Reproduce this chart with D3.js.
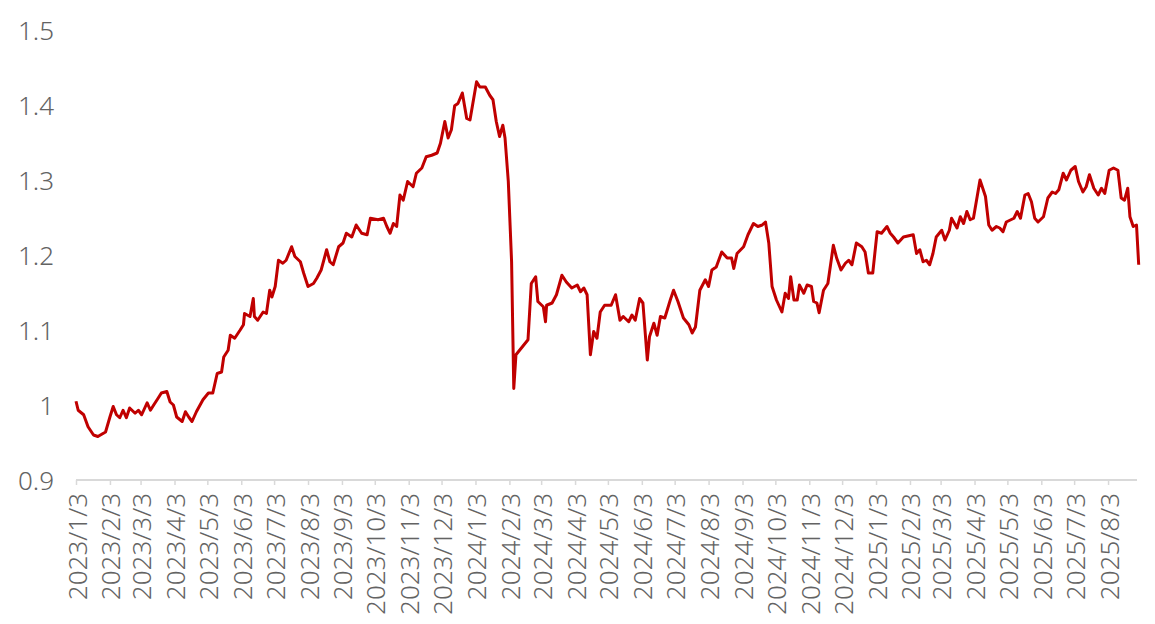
<!DOCTYPE html>
<html>
<head>
<meta charset="utf-8">
<script src="https://cdn.jsdelivr.net/npm/d3@7"></script>
<style>
  html, body { margin: 0; padding: 0; background: #ffffff; }
  svg { display: block; }
  text { font-family: "Noto Sans", "Noto Sans CJK SC", sans-serif; font-weight: 300; fill: #636363; }
</style>
</head>
<body>
<svg id="chart" width="1155" height="624"></svg>
<script>
const dates = [
"2023-01-03","2023-01-05","2023-01-10","2023-01-14","2023-01-19","2023-01-23","2023-01-30",
"2023-02-03","2023-02-06","2023-02-09","2023-02-12","2023-02-15","2023-02-18","2023-02-21","2023-02-26",
"2023-03-01","2023-03-04","2023-03-09","2023-03-12","2023-03-15","2023-03-19","2023-03-22","2023-03-27","2023-03-30",
"2023-04-02","2023-04-05","2023-04-10","2023-04-13","2023-04-16","2023-04-19","2023-04-23","2023-04-29",
"2023-05-04","2023-05-08","2023-05-12","2023-05-16","2023-05-18","2023-05-22","2023-05-24","2023-05-28",
"2023-06-02","2023-06-05","2023-06-06","2023-06-11","2023-06-14","2023-06-15","2023-06-18","2023-06-23","2023-06-26","2023-06-29",
"2023-07-01","2023-07-04","2023-07-07","2023-07-11","2023-07-14","2023-07-19","2023-07-22","2023-07-27","2023-07-30",
"2023-08-03","2023-08-08","2023-08-11","2023-08-15","2023-08-20","2023-08-23","2023-08-26","2023-08-31",
"2023-09-04","2023-09-07","2023-09-12","2023-09-16","2023-09-21","2023-09-26","2023-09-29",
"2023-10-06","2023-10-11","2023-10-14","2023-10-17","2023-10-20","2023-10-23","2023-10-26","2023-10-29",
"2023-11-02","2023-11-07","2023-11-10","2023-11-15","2023-11-19","2023-11-24","2023-11-29",
"2023-12-02","2023-12-06","2023-12-09","2023-12-12","2023-12-15","2023-12-18","2023-12-22","2023-12-26","2023-12-29",
"2024-01-04","2024-01-07","2024-01-12","2024-01-16","2024-01-19","2024-01-22","2024-01-25","2024-01-28","2024-01-30",
"2024-02-02","2024-02-05","2024-02-07","2024-02-09","2024-02-20","2024-02-23","2024-02-27","2024-02-29",
"2024-03-05","2024-03-07","2024-03-08","2024-03-13","2024-03-17","2024-03-22","2024-03-26","2024-03-31",
"2024-04-05","2024-04-08","2024-04-11","2024-04-14","2024-04-17","2024-04-20","2024-04-23","2024-04-26","2024-04-30",
"2024-05-06","2024-05-10","2024-05-14","2024-05-17","2024-05-22","2024-05-25","2024-05-28",
"2024-06-01","2024-06-04","2024-06-08","2024-06-10","2024-06-14","2024-06-17","2024-06-20","2024-06-24","2024-06-29",
"2024-07-02","2024-07-06","2024-07-11","2024-07-16","2024-07-19","2024-07-22","2024-07-26","2024-07-31",
"2024-08-03","2024-08-06","2024-08-10","2024-08-15","2024-08-20","2024-08-24","2024-08-26","2024-08-29",
"2024-09-04","2024-09-08","2024-09-13","2024-09-17","2024-09-21","2024-09-24","2024-09-27","2024-09-30",
"2024-10-04","2024-10-09","2024-10-12","2024-10-15","2024-10-17","2024-10-20","2024-10-23","2024-10-25","2024-10-29",
"2024-11-01","2024-11-05","2024-11-07","2024-11-10","2024-11-12","2024-11-16","2024-11-20","2024-11-25","2024-11-28",
"2024-12-02","2024-12-06","2024-12-09","2024-12-12","2024-12-16","2024-12-21","2024-12-24","2024-12-27","2024-12-31",
"2025-01-04","2025-01-08","2025-01-13","2025-01-16","2025-01-19","2025-01-23","2025-01-28",
"2025-02-06","2025-02-09","2025-02-12","2025-02-15","2025-02-18","2025-02-21","2025-02-24","2025-02-27",
"2025-03-04","2025-03-07","2025-03-11","2025-03-13","2025-03-18","2025-03-21","2025-03-24","2025-03-27","2025-03-30",
"2025-04-02","2025-04-08","2025-04-13","2025-04-16","2025-04-19","2025-04-23","2025-04-26","2025-04-29",
"2025-05-02","2025-05-09","2025-05-12","2025-05-15","2025-05-19","2025-05-22","2025-05-25","2025-05-28","2025-05-31",
"2025-06-05","2025-06-09","2025-06-13","2025-06-16","2025-06-19","2025-06-23","2025-06-26","2025-06-30",
"2025-07-04","2025-07-07","2025-07-11","2025-07-14","2025-07-17","2025-07-21","2025-07-25","2025-07-28","2025-07-31",
"2025-08-04","2025-08-08","2025-08-12","2025-08-15","2025-08-18","2025-08-21","2025-08-23","2025-08-26","2025-08-29","2025-08-31"
];

const values = [
1.005,0.993,0.987,0.971,0.960,0.958,0.964,
0.984,0.998,0.987,0.983,0.993,0.983,0.996,0.989,
0.993,0.987,1.003,0.993,1.000,1.009,1.016,1.018,1.004,
1.000,0.984,0.978,0.991,0.984,0.978,0.991,1.007,
1.016,1.016,1.042,1.044,1.064,1.073,1.093,1.089,
1.100,1.107,1.122,1.118,1.142,1.118,1.113,1.124,1.122,1.153,
1.144,1.158,1.193,1.189,1.193,1.211,1.198,1.191,1.176,
1.158,1.162,1.169,1.180,1.207,1.191,1.187,1.211,
1.216,1.229,1.224,1.240,1.229,1.227,1.249,
1.247,1.249,1.238,1.229,1.242,1.238,1.280,1.273,
1.298,1.291,1.309,1.316,1.331,1.333,1.336,
1.349,1.378,1.356,1.367,1.399,1.402,1.416,1.382,1.380,
1.431,1.424,1.424,1.413,1.407,1.378,1.358,1.373,1.356,
1.298,1.191,1.022,1.067,1.087,1.162,1.171,1.138,
1.131,1.111,1.133,1.136,1.147,1.173,1.164,1.156,
1.160,1.151,1.156,1.147,1.067,1.098,1.089,1.124,1.133,
1.133,1.147,1.113,1.118,1.111,1.120,1.113,
1.142,1.136,1.060,1.091,1.109,1.093,1.118,1.116,1.140,
1.153,1.138,1.116,1.107,1.096,1.104,1.153,1.167,
1.158,1.180,1.184,1.204,1.196,1.196,1.182,1.202,
1.211,1.227,1.242,1.238,1.240,1.244,1.216,1.158,
1.140,1.124,1.149,1.142,1.171,1.140,1.140,1.160,1.149,
1.160,1.158,1.138,1.136,1.123,1.153,1.162,1.213,1.196,
1.180,1.189,1.193,1.187,1.216,1.211,1.204,1.176,1.176,
1.231,1.229,1.238,1.229,1.224,1.216,1.224,
1.227,1.202,1.207,1.191,1.193,1.187,1.202,1.224,
1.233,1.220,1.233,1.249,1.236,1.251,1.242,1.258,1.247,
1.249,1.300,1.278,1.240,1.233,1.238,1.236,1.231,
1.244,1.249,1.258,1.249,1.280,1.282,1.271,1.249,1.244,
1.251,1.276,1.284,1.282,1.287,1.309,1.300,1.313,
1.318,1.298,1.284,1.291,1.307,1.289,1.280,1.289,1.282,
1.313,1.316,1.313,1.276,1.273,1.289,1.251,1.238,1.240,1.187
];

const xTickLabels = [
"2023/1/3","2023/2/3","2023/3/3","2023/4/3","2023/5/3","2023/6/3","2023/7/3","2023/8/3",
"2023/9/3","2023/10/3","2023/11/3","2023/12/3","2024/1/3","2024/2/3","2024/3/3","2024/4/3",
"2024/5/3","2024/6/3","2024/7/3","2024/8/3","2024/9/3","2024/10/3","2024/11/3","2024/12/3",
"2025/1/3","2025/2/3","2025/3/3","2025/4/3","2025/5/3","2025/6/3","2025/7/3","2025/8/3"
];
const yTicks = [0.9, 1.0, 1.1, 1.2, 1.3, 1.4, 1.5];
const yTickLabels = ["0.9", "1", "1.1", "1.2", "1.3", "1.4", "1.5"];

const parseDash = d3.timeParse("%Y-%m-%d");
const parseSlash = d3.timeParse("%Y/%m/%d");
const data = dates.map((d, i) => ({ date: parseDash(d), value: values[i] }));

const svg = d3.select("#chart");
const plotLeft = 76, plotRight = 1138.7, plotTop = 30, plotBottom = 480;

const x = d3.scaleTime()
  .domain([parseDash("2023-01-03"), parseDash("2025-08-31")])
  .range([plotLeft, plotRight]);
const y = d3.scaleLinear().domain([0.9, 1.5]).range([plotBottom, plotTop]);

const xAxis = d3.axisBottom(x)
  .tickValues(xTickLabels.map(s => parseSlash(s)))
  .tickSize(5)
  .tickSizeOuter(0)
  .tickFormat((d, i) => xTickLabels[i]);

const gx = svg.append("g")
  .attr("transform", `translate(0,${plotBottom})`)
  .call(xAxis);
gx.attr("font-family", null);
gx.select(".domain").attr("stroke", "#d9d9d9").attr("stroke-width", 2)
  .attr("d", `M${plotLeft},0H1137`);
gx.selectAll(".tick line").attr("stroke", "#d9d9d9").attr("stroke-width", 1.5);
gx.selectAll(".tick text")
  .attr("font-size", 26)
  .attr("fill", "#636363")
  .attr("text-anchor", "end")
  .attr("dominant-baseline", "central")
  .attr("transform", "translate(0,13) rotate(-90)")
  .attr("x", 0).attr("y", 0).attr("dy", null);

const yAxis = d3.axisLeft(y)
  .tickValues(yTicks)
  .tickSize(0)
  .tickPadding(0)
  .tickFormat((d, i) => yTickLabels[i]);
const gy = svg.append("g")
  .attr("transform", "translate(54,0)")
  .call(yAxis);
gy.attr("font-family", null);
gy.select(".domain").remove();
gy.selectAll(".tick text")
  .attr("font-size", 26)
  .attr("fill", "#636363")
  .attr("x", 0)
  .attr("dy", "0.35em");

const line = d3.line()
  .x(d => x(d.date))
  .y(d => y(d.value));

svg.append("path")
  .datum(data)
  .attr("fill", "none")
  .attr("stroke", "#c00000")
  .attr("stroke-width", 3)
  .attr("stroke-linejoin", "round")
  .attr("d", line);
</script>
</body>
</html>
